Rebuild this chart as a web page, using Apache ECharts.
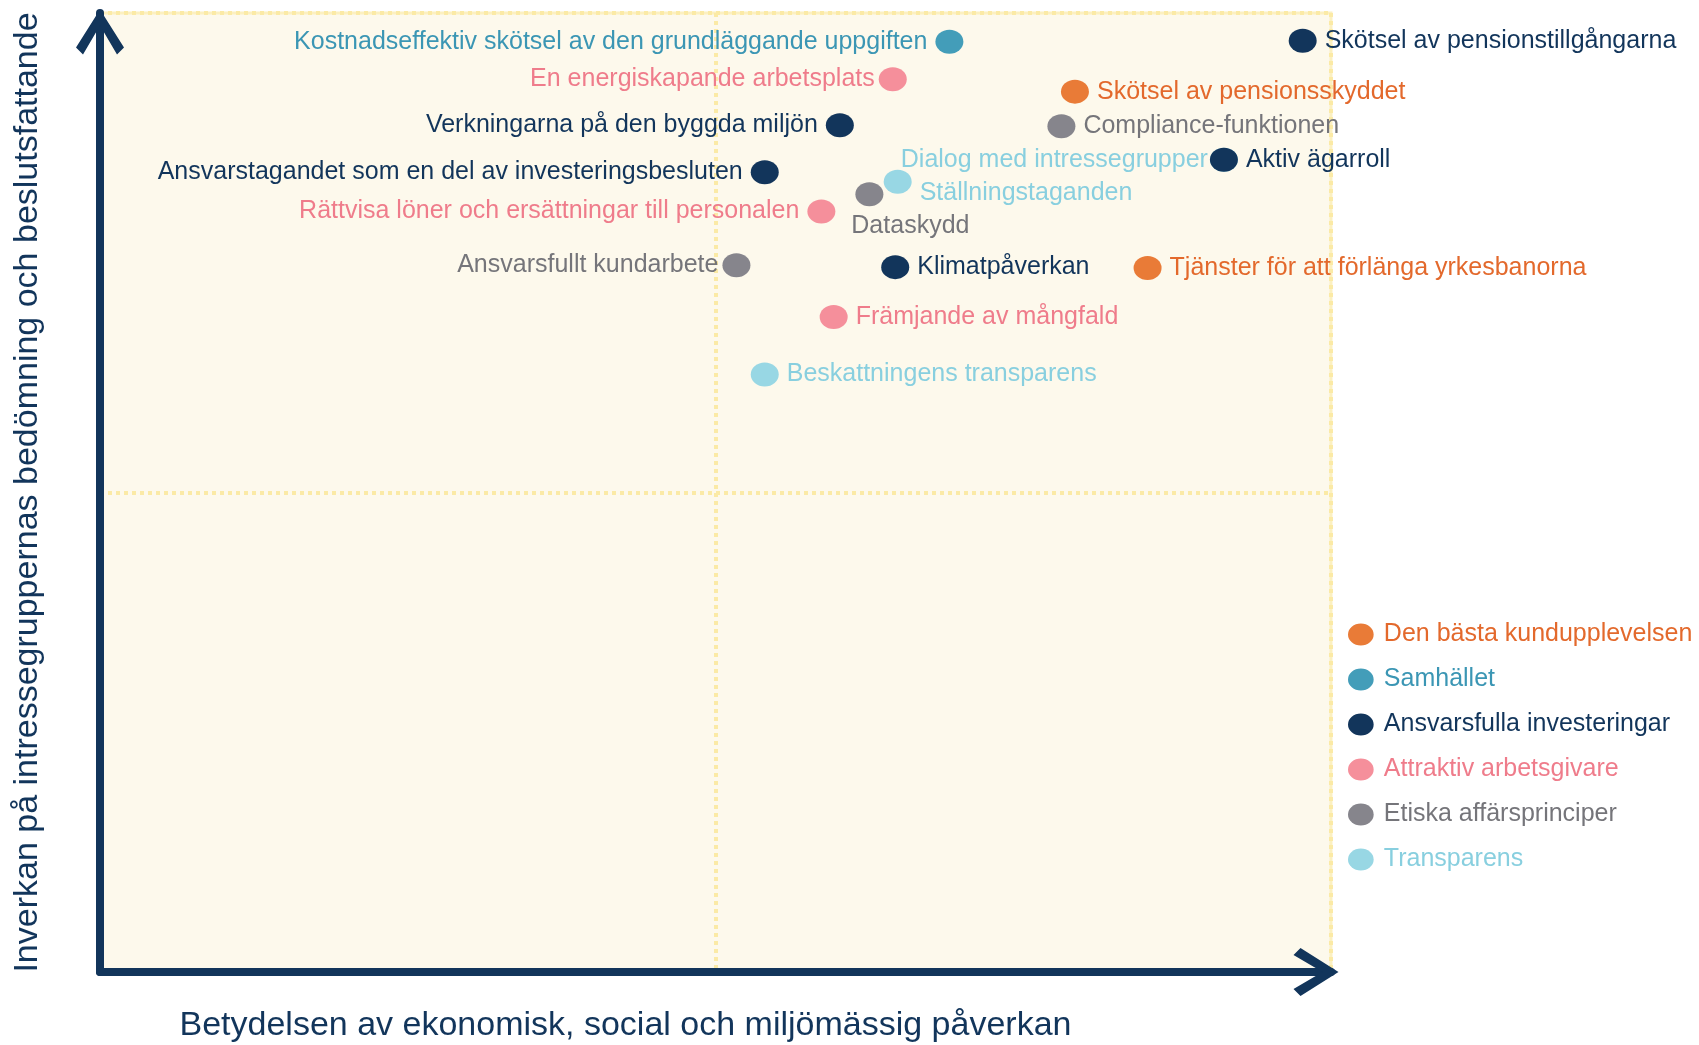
<!DOCTYPE html>
<html>
<head>
<meta charset="utf-8">
<script src="https://cdn.jsdelivr.net/npm/echarts@6/dist/echarts.min.js"></script>
<style>
  html, body { margin: 0; padding: 0; background: #fff; }
  #chart { width: 1699px; height: 1045px; }
</style>
</head>
<body>
<div id="chart"></div>
<script>
// kategorier (legend)
const categories = [
  "Den bästa kundupplevelsen",
  "Samhället",
  "Ansvarsfulla investeringar",
  "Attraktiv arbetsgivare",
  "Etiska affärsprinciper",
  "Transparens"
];

// väsentliga frågor: namn, kategori-index, x (betydelse), y (inverkan)
const topicNames = [
  "Skötsel av pensionsskyddet",
  "Tjänster för att förlänga yrkesbanorna",
  "Kostnadseffektiv skötsel av den grundläggande uppgiften",
  "Skötsel av pensionstillgångarna",
  "Verkningarna på den byggda miljön",
  "Ansvarstagandet som en del av investeringsbesluten",
  "Aktiv ägarroll",
  "Klimatpåverkan",
  "En energiskapande arbetsplats",
  "Rättvisa löner och ersättningar till personalen",
  "Främjande av mångfald",
  "Compliance-funktionen",
  "Dataskydd",
  "Ansvarsfullt kundarbete",
  "Dialog med intressegrupper",
  "Ställningstaganden",
  "Beskattningens transparens"
];
const topicGroup = [0, 0, 1, 2, 2, 2, 2, 2, 3, 3, 3, 4, 4, 4, 5, 5, 5];
const topicX = [7.92, 8.51, 6.90, 9.77, 6.01, 5.40, 9.13, 6.46, 6.44, 5.86, 5.96, 7.81, 6.25, 5.17, 9.13, 6.48, 5.40];
const topicY = [9.18, 7.34, 9.70, 9.71, 8.83, 8.34, 8.47, 7.35, 9.31, 7.93, 6.83, 8.82, 8.11, 7.37, 8.47, 8.24, 6.23];

// färger
const dotColors = ["#e97b37", "#439db9", "#12355b", "#f58f9b", "#86858c", "#98d7e4"];
const textColors = ["#e3692c", "#3b96b4", "#12355b", "#ef7c8b", "#75757a", "#88cfdf"];

// etikettplacering per fråga
const labelPlacement = {
  "Skötsel av pensionsskyddet": { position: "right" },
  "Tjänster för att förlänga yrkesbanorna": { position: "right" },
  "Kostnadseffektiv skötsel av den grundläggande uppgiften": { position: "left" },
  "Skötsel av pensionstillgångarna": { position: "right" },
  "Verkningarna på den byggda miljön": { position: "left" },
  "Ansvarstagandet som en del av investeringsbesluten": { position: "left" },
  "Aktiv ägarroll": { position: "right" },
  "Klimatpåverkan": { position: "right" },
  "En energiskapande arbetsplats": { position: "left", distance: 4 },
  "Rättvisa löner och ersättningar till personalen": { position: "left" },
  "Främjande av mångfald": { position: "right" },
  "Compliance-funktionen": { position: "right" },
  "Dataskydd": { position: "bottom", offset: [41, 5], distance: 2 },
  "Ansvarsfullt kundarbete": { position: "left", distance: 4 },
  "Dialog med intressegrupper": { position: "left", distance: 2 },
  "Ställningstaganden": { position: "right", offset: [0, 11] },
  "Beskattningens transparens": { position: "right" }
};

const font = "'Liberation Sans', Arial, Helvetica, sans-serif";
const ellipse = "path://M0,12 A14,12 0 1,1 28,12 A14,12 0 1,1 0,12 Z";
const chevron = "path://M0,38 L24,0 L48,38 L41,45 L24,16 L7,45 Z";
const navy = "#12355b";

const series = categories.map((cat, ci) => {
  const data = [];
  topicNames.forEach((name, i) => {
    if (topicGroup[i] !== ci) return;
    const p = labelPlacement[name];
    data.push({
      name,
      value: [topicX[i], topicY[i]],
      label: {
        position: p.position,
        distance: p.distance != null ? p.distance : 8,
        offset: p.offset || [0, 0]
      }
    });
  });
  return {
    name: cat,
    type: "scatter",
    z: ci === 2 ? 4 : 2,
    symbol: ellipse,
    symbolSize: [28, 24],
    itemStyle: { color: dotColors[ci], opacity: 1 },
    label: {
      show: true,
      formatter: "{b}",
      color: textColors[ci],
      fontFamily: font,
      fontSize: 25
    },
    emphasis: { disabled: true },
    data
  };
});

const axisLine = (offset) => ({
  show: true,
  symbol: ["none", chevron],
  symbolSize: [48, 45],
  symbolOffset: [0, offset],
  lineStyle: { color: navy, width: 8 }
});
const midLine = {
  show: true,
  lineStyle: { color: "#fbeaa6", width: 4, type: "dotted" }
};

const chart = echarts.init(document.getElementById("chart"));
chart.setOption({
  animation: false,
  grid: {
    left: 100,
    top: 13,
    right: 368,
    bottom: 73,
    outerBoundsMode: "none",
    containLabel: false,
    show: true,
    backgroundColor: "#fdf9ec",
    borderColor: "#fcf0c0",
    borderWidth: 3
  },
  legend: {
    orient: "vertical",
    left: 1343,
    top: 617,
    itemWidth: 28,
    itemHeight: 22,
    itemGap: 20,
    icon: ellipse,
    selectedMode: false,
    textStyle: { fontFamily: font, fontSize: 25, padding: [0, 0, 0, 4] },
    data: categories.map((c, i) => ({ name: c, textStyle: { color: textColors[i] } }))
  },
  xAxis: {
    type: "value",
    min: 0,
    max: 10,
    interval: 5,
    name: "Betydelsen av ekonomisk, social och miljömässig påverkan",
    nameLocation: "middle",
    nameGap: 37,
    nameTextStyle: { color: navy, fontFamily: font, fontSize: 34, padding: [0, 180, 0, 0] },
    axisLine: axisLine(-15),
    axisTick: { show: false },
    axisLabel: { show: false },
    splitLine: midLine
  },
  yAxis: {
    type: "value",
    min: 0,
    max: 10,
    interval: 5,
    name: "Inverkan på intressegruppernas bedömning och beslutsfattande",
    nameLocation: "middle",
    nameGap: 55,
    nameTextStyle: { color: navy, fontFamily: font, fontSize: 34 },
    axisLine: axisLine(-19),
    axisTick: { show: false },
    axisLabel: { show: false },
    splitLine: midLine
  },
  series
});
</script>
</body>
</html>
